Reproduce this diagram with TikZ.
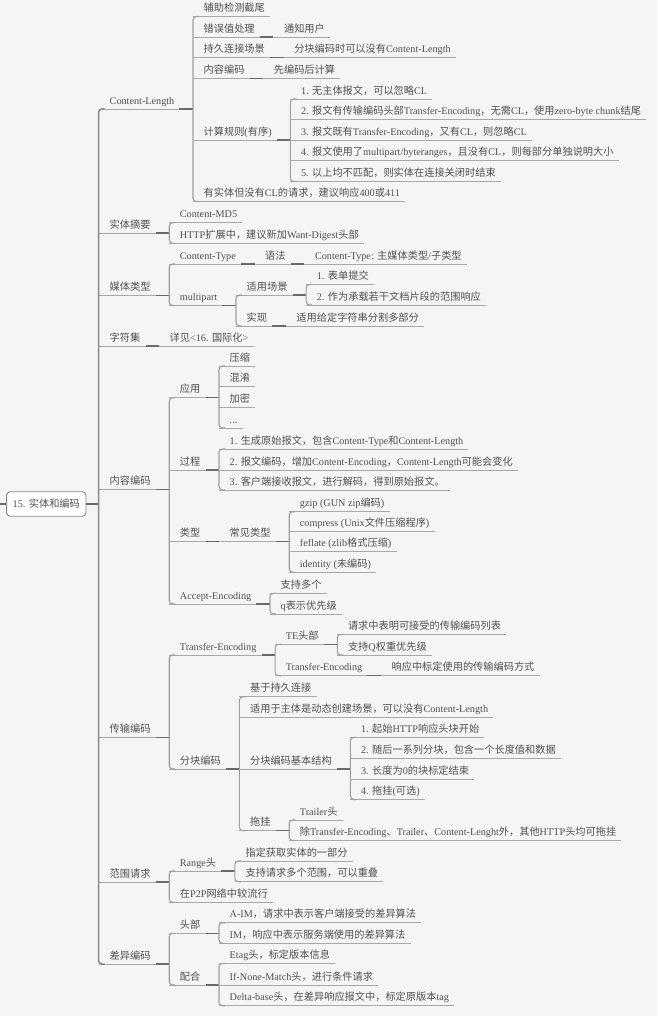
\documentclass[tikz,border=0pt]{standalone}
\usepackage{fontspec}
\setmainfont{Liberation Serif}
\newfontfamily\cjkf{Noto Sans CJK SC}
\newfontfamily\latf{Liberation Serif}
\chardef\cjkcls=7
\newcount\cjkcc
\cjkcc="3000 \loop \XeTeXcharclass\cjkcc=\cjkcls \advance\cjkcc by 1 \ifnum\cjkcc<"3040 \repeat
\cjkcc="4E00 \loop \XeTeXcharclass\cjkcc=\cjkcls \advance\cjkcc by 1 \ifnum\cjkcc<"A000 \repeat
\cjkcc="FF00 \loop \XeTeXcharclass\cjkcc=\cjkcls \advance\cjkcc by 1 \ifnum\cjkcc<"FFF0 \repeat
\XeTeXinterchartoks 0 \cjkcls={\cjkf}
\XeTeXinterchartoks 4095 \cjkcls={\cjkf}
\XeTeXinterchartoks \cjkcls 0={\latf}
\XeTeXinterchartokenstate=1
\definecolor{bgc}{HTML}{F5F5F5}
\definecolor{txt}{HTML}{505050}
\definecolor{ulc}{HTML}{A8A8A8}
\definecolor{brc}{HTML}{A0A0A0}
\definecolor{stc}{HTML}{6A6A6A}
\definecolor{mbc}{HTML}{8A8A8A}
\definecolor{rootc}{HTML}{8A8A8A}
\newcommand\cnode[5][10.5pt]{%
  \coordinate (tmpa) at ([xshift=13.5pt]#3.south east);
  \coordinate (tmpb) at (0,#4);
  \node[item] (#2) at (tmpa |- tmpb) {\hspace*{#1}#5\hspace*{5pt}};
  \draw[ulline] (#2.south west) -- (#2.south east);
}
\newcommand\lnode[3]{%
  \node[item] (#1) at (98.5,#2) {\hspace*{11pt}#3\hspace*{5pt}};
  \draw[ulline] (#1.south west) -- (#1.south east);
}
\newcommand\stubto[2]{\draw[stubline] (#1.south east) -- (#2.south west |- #1.south east);}
\newcommand\kids[3]{%
  \stubto{#1}{#2}
  \draw[brkline] ([xshift=6pt]#2.south west) -- (#2.south west) -- (#3.south west) -- ([xshift=6pt]#3.south west);
}
\begin{document}
\begin{tikzpicture}[x=1pt,y=-1pt,
  item/.style={anchor=south west, inner sep=0pt, text height=9pt, text depth=4.6pt,
    font=\fontsize{10.2pt}{12pt}\selectfont, text=txt},
  ulline/.style={draw=ulc, line width=0.85pt},
  stubline/.style={draw=stc, line width=1.1pt},
  brkline/.style={draw=brc, line width=1.1pt, rounded corners=3.5pt},
  mainbar/.style={draw=mbc, line width=1.5pt, rounded corners=3.5pt},
  rootbox/.style={draw=rootc, fill=white, rounded corners=3.5pt, line width=0.9pt,
    minimum width=79.3pt, minimum height=24.5pt, inner sep=0pt,
    font=\fontsize{10.2pt}{12pt}\selectfont, text=txt}]
\fill[bgc] (0,0) rectangle (657,1016);
\useasboundingbox (0,0) rectangle (657,1016);

% root
\node[rootbox] (root) at (46.3,504) {15. 实体和编码};
\coordinate (lft) at (0,504);
\coordinate (mb) at (98.5,504);
\draw[stubline] (lft) -- (root.west);
\draw[stubline] (root.east) -- (mb);

% level 1
\lnode{cl}{109}{Content-Length}
\lnode{digest}{233}{实体摘要}
\lnode{media}{295.5}{媒体类型}
\lnode{charset}{346}{字符集}
\lnode{ce}{489.5}{内容编码}
\lnode{te}{737.7}{传输编码}
\lnode{range}{882}{范围请求}
\lnode{delta}{964}{差异编码}
\draw[mainbar] ([xshift=6pt]cl.south west) -- (cl.south west) -- (delta.south west) -- ([xshift=6pt]delta.south west);

% Content-Length
\cnode{cla}{cl}{16.5}{辅助检测截尾}
\cnode{clb}{cl}{37}{错误值处理}
\cnode{clba}{clb}{37}{通知用户}
\cnode{clc}{cl}{57.7}{持久连接场景}
\cnode{clca}{clc}{57.7}{分块编码时可以没有Content-Length}
\cnode{cld}{cl}{78.7}{内容编码}
\cnode{clda}{cld}{78.7}{先编码后计算}
\cnode{cle}{cl}{140}{计算规则(有序)}
\cnode{r1}{cle}{99}{1. 无主体报文，可以忽略CL}
\cnode{r2}{cle}{119.5}{2. 报文有传输编码头部Transfer-Encoding，无需CL，使用zero-byte chunk结尾}
\cnode{r3}{cle}{140}{3. 报文既有Transfer-Encoding，又有CL，则忽略CL}
\cnode{r4}{cle}{160.5}{4. 报文使用了multipart/byteranges，且没有CL，则每部分单独说明大小}
\cnode{r5}{cle}{181.5}{5. 以上均不匹配，则实体在连接关闭时结束}
\cnode{clf}{cl}{201.5}{有实体但没有CL的请求，建议响应400或411}
\kids{cl}{cla}{clf}
\stubto{clb}{clba}
\stubto{clc}{clca}
\stubto{cld}{clda}
\kids{cle}{r1}{r5}

% 实体摘要
\cnode{dga}{digest}{222.7}{Content-MD5}
\cnode{dgb}{digest}{243.3}{HTTP扩展中，建议新加Want-Digest头部}
\kids{digest}{dga}{dgb}

% 媒体类型
\cnode{mda}{media}{264}{Content-Type}
\cnode{mdaa}{mda}{264}{语法}
\cnode{mdab}{mdaa}{264}{Content-Type: 主媒体类型/子类型}
\cnode{mdb}{media}{305.5}{multipart}
\cnode{mdba}{mdb}{295}{适用场景}
\cnode{mdbaa}{mdba}{284.5}{1. 表单提交}
\cnode{mdbab}{mdba}{305}{2. 作为承载若干文档片段的范围响应}
\cnode{mdbb}{mdb}{326}{实现}
\cnode{mdbba}{mdbb}{326}{适用给定字符串分割多部分}
\kids{media}{mda}{mdb}
\stubto{mda}{mdaa}
\stubto{mdaa}{mdab}
\kids{mdb}{mdba}{mdbb}
\kids{mdba}{mdbaa}{mdbab}
\stubto{mdbb}{mdbba}

% 字符集
\cnode{csa}{charset}{346}{详见<16. 国际化>}
\stubto{charset}{csa}

% 内容编码
\cnode{cea}{ce}{397.7}{应用}
\cnode{ceaa}{cea}{366}{压缩}
\cnode{ceab}{cea}{386.7}{混淆}
\cnode{ceac}{cea}{407.5}{加密}
\cnode{cead}{cea}{428}{...}
\cnode{ceb}{ce}{470}{过程}
\cnode{ceba}{ceb}{449}{1. 生成原始报文，包含Content-Type和Content-Length}
\cnode{cebb}{ceb}{470}{2. 报文编码，增加Content-Encoding，Content-Length可能会变化}
\cnode{cebc}{ceb}{490}{3. 客户端接收报文，进行解码，得到原始报文。}
\cnode{cec}{ce}{541.7}{类型}
\cnode{ceca}{cec}{541.7}{常见类型}
\cnode{cecaa}{ceca}{511.7}{gzip (GUN zip编码)}
\cnode{cecab}{ceca}{531.7}{compress (Unix文件压缩程序)}
\cnode{cecac}{ceca}{551.7}{feflate (zlib格式压缩)}
\cnode{cecad}{ceca}{572.3}{identity (未编码)}
\cnode{ced}{ce}{604}{Accept-Encoding}
\cnode{ceda}{ced}{593.3}{支持多个}
\cnode{cedb}{ced}{614}{q表示优先级}
\kids{ce}{cea}{ced}
\kids{cea}{ceaa}{cead}
\kids{ceb}{ceba}{cebc}
\stubto{cec}{ceca}
\kids{ceca}{cecaa}{cecad}
\kids{ced}{ceda}{cedb}

% 传输编码
\cnode{tea}{te}{655}{Transfer-Encoding}
\cnode{teaa}{tea}{644.3}{TE头部}
\cnode{teaaa}{teaa}{634.3}{请求中表明可接受的传输编码列表}
\cnode{teaab}{teaa}{655}{支持Q权重优先级}
\cnode{teab}{tea}{675.7}{Transfer-Encoding}
\cnode{teaba}{teab}{675.7}{响应中标定使用的传输编码方式}
\cnode{teb}{te}{769}{分块编码}
\cnode{teba}{teb}{696.7}{基于持久连接}
\cnode{tebb}{teb}{717.3}{适用于主体是动态创建场景，可以没有Content-Length}
\cnode{tebc}{teb}{769}{分块编码基本结构}
\cnode{tebca}{tebc}{737.3}{1. 起始HTTP响应头块开始}
\cnode{tebcb}{tebc}{758.3}{2. 随后一系列分块，包含一个长度值和数据}
\cnode{tebcc}{tebc}{779}{3. 长度为0的块标定结束}
\cnode{tebcd}{tebc}{799.5}{4. 拖挂(可选)}
\cnode{tebd}{teb}{830.7}{拖挂}
\cnode{tebda}{tebd}{820}{Trailer头}
\cnode{tebdb}{tebd}{840.5}{除Transfer-Encoding、Trailer、Content-Lenght外，其他HTTP头均可拖挂}
\kids{te}{tea}{teb}
\kids{tea}{teaa}{teab}
\kids{teaa}{teaaa}{teaab}
\stubto{teab}{teaba}
\kids{teb}{teba}{tebd}
\kids{tebc}{tebca}{tebcd}
\kids{tebd}{tebda}{tebdb}

% 范围请求
\cnode{rga}{range}{871}{Range头}
\cnode{rgaa}{rga}{861}{指定获取实体的一部分}
\cnode{rgab}{rga}{881.7}{支持请求多个范围，可以重叠}
\cnode{rgb}{range}{902.3}{在P2P网络中较流行}
\kids{range}{rga}{rgb}
\kids{rga}{rgaa}{rgab}

% 差异编码
\cnode{dla}{delta}{933.3}{头部}
\cnode{dlaa}{dla}{922.7}{A-IM，请求中表示客户端接受的差异算法}
\cnode{dlab}{dla}{943.3}{IM，响应中表示服务端使用的差异算法}
\cnode{dlb}{delta}{985}{配合}
\cnode{dlba}{dlb}{963.5}{Etag头，标定版本信息}
\cnode{dlbb}{dlb}{985}{If-None-Match头，进行条件请求}
\cnode{dlbc}{dlb}{1005.7}{Delta-base头，在差异响应报文中，标定原版本tag}
\kids{delta}{dla}{dlb}
\kids{dla}{dlaa}{dlab}
\kids{dlb}{dlba}{dlbc}
\end{tikzpicture}
\end{document}
